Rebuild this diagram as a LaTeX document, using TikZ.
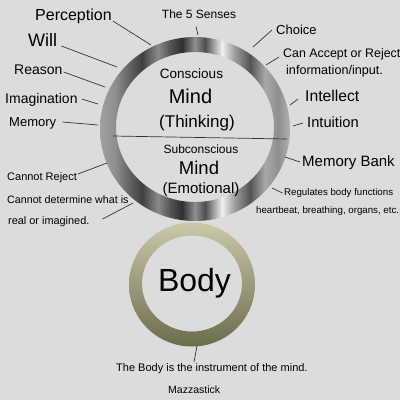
\documentclass[tikz,border=0pt]{standalone}
\usepackage{fontspec}
\setmainfont{Liberation Sans}
\usepackage{xcolor}
\definecolor{bggray}{HTML}{DCDCDC}
\definecolor{bodytop}{HTML}{CBC9AA}
\definecolor{bodybot}{HTML}{6C6B4B}
\definecolor{leadgray}{HTML}{333333}
\newcommand{\fsz}[1]{\fontsize{#1}{#1}\selectfont}
\pgfdeclarehorizontalshading{chrome}{100bp}{color(0bp)=(black!37); color(25bp)=(black!37);
  color(28.95bp)=(black!44); color(32.89bp)=(black!62); color(36.05bp)=(black!75);
  color(40.26bp)=(black!46); color(43.42bp)=(black!67); color(46.58bp)=(black!81);
  color(50bp)=(black!44); color(52.63bp)=(black!69); color(57.11bp)=(black!6);
  color(60.26bp)=(black!37); color(64.47bp)=(black!67); color(68.42bp)=(black!34);
  color(71.84bp)=(black!44); color(75bp)=(black!31); color(100bp)=(black!31)}

\begin{document}
\begin{tikzpicture}[x=1pt,y=-1pt,
  lbl/.style={inner sep=0pt,anchor=base west},
  mid/.style={inner sep=0pt,anchor=base},
  lead/.style={leadgray,line width=0.7pt}]
%background
\fill[bggray] (0,0) rectangle (400,400);
\useasboundingbox (0,0) rectangle (400,400);

%rings
\shade[shading=chrome,even odd rule] (195,129) ellipse [x radius=95,y radius=92]
  (195,127) ellipse [x radius=79,y radius=75];
\shade[top color=bodytop,bottom color=bodybot,even odd rule] (192,284.5) ellipse [x radius=63,y radius=62]
  (192,283.5) ellipse [x radius=50,y radius=48];

%divider
\coordinate (dl) at (113,136);
\coordinate (dr) at (287,139);
\draw[lead] (dl) -- (dr);

%inside the rings
\node[mid] (cons) at (191.5,78) {\fsz{13.5}Conscious};
\node[mid] (mindA) at (190.5,103) {\fsz{20}Mind};
\node[mid] (think) at (197,127) {\fsz{17}(Thinking)};
\node[mid] (subc) at (201,153) {\fsz{12}Subconscious};
\node[mid] (mindB) at (199,174) {\fsz{18.5}Mind};
\node[mid] (emo) at (201,193) {\fsz{15}(Emotional)};
\node[mid] (body) at (194.5,291) {\fsz{32}Body};

%left labels
\node[lbl] (perc) at (35,20) {\fsz{16}Perception};
\node[lbl] (will) at (28,46) {\fsz{18}Will};
\node[lbl] (reason) at (14,74) {\fsz{14}Reason};
\node[lbl] (imag) at (5,103) {\fsz{14}Imagination};
\node[lbl] (memory) at (9,126) {\fsz{13}Memory};
\node[lbl] (reject) at (7,180) {\fsz{11}Cannot Reject};
\node[lbl] (determ) at (7,203) {\fsz{10.7}Cannot determine what is};
\node[lbl] (real) at (8,224) {\fsz{10.9}real or imagined.};

%right labels
\node[mid] (senses) at (199,18.5) {\fsz{12}The 5 Senses};
\node[lbl] (choice) at (276,34) {\fsz{13}Choice};
\node[lbl] (accept) at (283,57) {\fsz{12.4}Can Accept or Reject};
\node[lbl] (info) at (286,74) {\fsz{12.6}information/input.};
\node[lbl] (intel) at (305,101) {\fsz{15.7}Intellect};
\node[lbl] (intu) at (307,127) {\fsz{14.7}Intuition};
\node[lbl] (bank) at (302,166) {\fsz{15}Memory Bank};
\node[lbl] (regul) at (284,195) {\fsz{9.7}Regulates body functions};
\node[lbl] (heart) at (256,213) {\fsz{9.7}heartbeat, breathing, organs, etc.};

%bottom
\node[lbl] (instr) at (116,371) {\fsz{11}The Body is the instrument of the mind.};
\node[lbl] (mazza) at (168,393) {\fsz{10.5}Mazzastick};

%ends on the rings
\coordinate (rPerc) at (151,45);
\coordinate (rSens) at (198,35);
\coordinate (rChoice) at (253,47);
\coordinate (rAccept) at (266,65);
\coordinate (rWill) at (117,67);
\coordinate (rReason) at (105,87);
\coordinate (rImag) at (98,104);
\coordinate (rMemory) at (98,125);
\coordinate (rIntel) at (290,105);
\coordinate (rIntu) at (293,126);
\coordinate (rBank) at (285,157);
\coordinate (rRegul) at (272,188);
\coordinate (rReject) at (107,163);
\coordinate (rReal) at (133,203);
\coordinate (rBody) at (197,346);

%leaders
\draw[lead] ([shift={(1,1)}]perc.base east) -- (rPerc);
\draw[lead] ([shift={(-3,8)}]senses.base) -- (rSens);
\draw[lead] ([shift={(-4,-4)}]choice.base west) -- (rChoice);
\draw[lead] ([shift={(-4,0)}]accept.base west) -- (rAccept);
\draw[lead] ([shift={(4,0)}]will.base east) -- (rWill);
\draw[lead] ([shift={(1,-2)}]reason.base east) -- (rReason);
\draw[lead] ([shift={(4,-4)}]imag.base east) -- (rImag);
\draw[lead] ([shift={(6,-4)}]memory.base east) -- (rMemory);
\draw[lead] ([shift={(-7,-2)}]intel.base west) -- (rIntel);
\draw[lead] ([shift={(-4,-4)}]intu.base west) -- (rIntu);
\draw[lead] ([shift={(-2,-4)}]bank.base west) -- (rBank);
\draw[lead] ([shift={(-1.5,-2)}]regul.base west) -- (rRegul);
\draw[lead] ([shift={(1,-6)}]reject.base east) -- (rReject);
\draw[lead] ([shift={(13,-5)}]real.base east) -- (rReal);
\draw[lead] ([shift={(78,-9)}]instr.base west) -- (rBody);
\end{tikzpicture}
\end{document}
